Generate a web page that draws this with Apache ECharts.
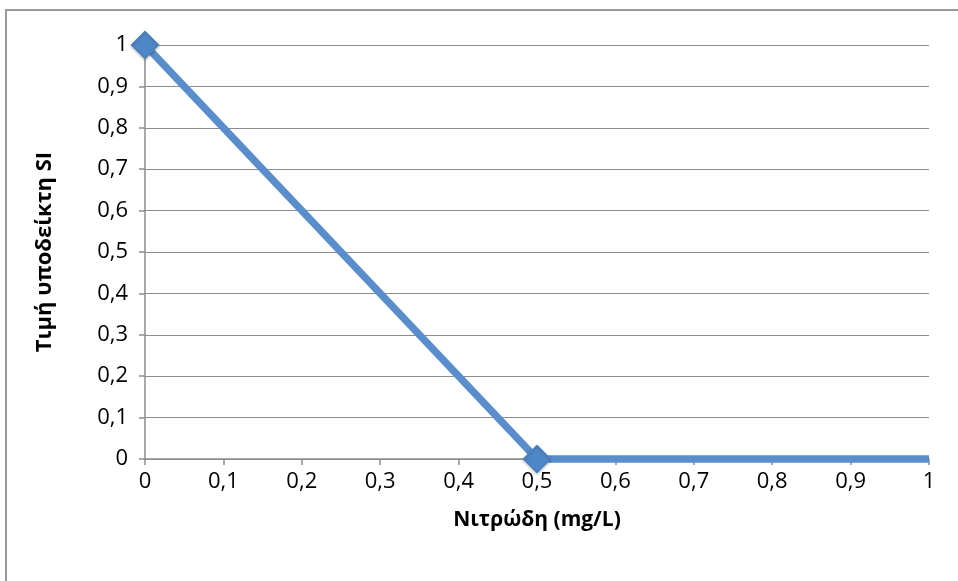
<!DOCTYPE html>
<html><head><meta charset="utf-8">
<script src="https://cdn.jsdelivr.net/npm/echarts@6/dist/echarts.min.js"></script>
<style>html,body{margin:0;padding:0;background:#fff}#c{width:958px;height:581px}</style>
</head><body><div id="c"></div>
<script>
const xValues = [0, 0.5, 1];
const yValues = [1, 0, 0];
const showMarker = [true, true, false];
const xTitle = 'Νιτρώδη (mg/L)';
const yTitle = 'Τιμή υποδείκτη SI';

const fmt = v => String(Math.round(v * 10) / 10).replace('.', ',');
const FONT = '"Open Sans", sans-serif';
const chart = echarts.init(document.getElementById('c'), null, {renderer: 'canvas'});
chart.setOption({
  animation: false,
  graphic: [{type: 'rect', shape: {x: 6, y: 10, width: 1100, height: 1100}, style: {fill: 'none', stroke: '#9a9a9a', lineWidth: 2}, z: -1}],
  grid: {left: 145, right: 958 - 929, top: 45, bottom: 581 - 459, containLabel: false},
  xAxis: {
    type: 'value', min: 0, max: 1, interval: 0.1,
    name: xTitle, nameLocation: 'middle', nameGap: 51,
    nameTextStyle: {fontFamily: FONT, fontWeight: 'bold', fontSize: 21, color: '#000'},
    axisLine: {show: true, lineStyle: {color: '#8c8c8c', width: 1.5}},
    axisTick: {show: true, length: 6, lineStyle: {color: '#8c8c8c', width: 1.5}},
    axisLabel: {formatter: fmt, fontFamily: FONT, fontSize: 22, color: '#000', margin: 12},
    splitLine: {show: false}
  },
  yAxis: {
    type: 'value', min: 0, max: 1, interval: 0.1,
    name: yTitle, nameLocation: 'middle', nameGap: 89, nameRotate: 90,
    nameTextStyle: {fontFamily: FONT, fontWeight: 'bold', fontSize: 22, color: '#000'},
    axisLine: {show: true, lineStyle: {color: '#8c8c8c', width: 1.5}},
    axisTick: {show: true, length: 6, lineStyle: {color: '#8c8c8c', width: 1.5}},
    axisLabel: {formatter: fmt, fontFamily: FONT, fontSize: 22, color: '#000', margin: 17},
    splitLine: {show: true, lineStyle: {color: '#8c8c8c', width: 1}}
  },
  series: [{
    type: 'line',
    data: xValues.map((x, i) => ({value: [x, yValues[i]], symbol: showMarker[i] ? 'diamond' : 'none'})),
    symbolSize: 28,
    lineStyle: {color: '#5a8dcc', width: 7.5},
    itemStyle: {color: '#4f86c6', borderColor: '#4f86c6', shadowBlur: 3, shadowColor: 'rgba(0,0,0,0.3)', shadowOffsetY: 1},
    clip: false, z: 3
  }]
});
</script></body></html>
